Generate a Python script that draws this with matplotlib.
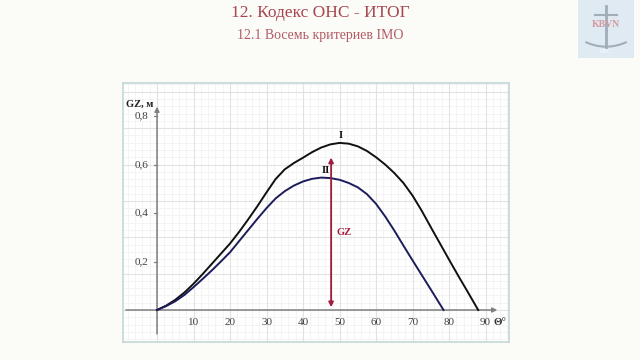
import numpy as np
import matplotlib.pyplot as plt
from matplotlib.patches import Rectangle

# heel angle, deg / righting lever GZ, m
theta_1 = [0, 2.5, 5, 7.5, 10, 12.5, 15, 17.5, 20, 22.5, 25, 27.5, 30, 32.5, 35, 37.5, 40, 42.5, 45,
           47.5, 50, 52.5, 55, 57.5, 60, 62.5, 65, 67.5, 70, 72.5, 75, 77.5, 80, 82.5, 85, 88]
gz_1 = [0, 0.018, 0.042, 0.072, 0.108, 0.148, 0.19, 0.232, 0.274, 0.322, 0.374, 0.428, 0.485, 0.54, 0.58,
        0.606, 0.628, 0.651, 0.67, 0.683, 0.689, 0.686, 0.675, 0.656, 0.63, 0.6, 0.565, 0.524, 0.472,
        0.41, 0.342, 0.275, 0.208, 0.142, 0.078, 0]
theta_2 = [0, 2.5, 5, 7.5, 10, 12.5, 15, 17.5, 20, 22.5, 25, 27.5, 30, 32.5, 35, 37.5, 40, 42.5, 45,
           47.5, 50, 52.5, 55, 57.5, 60, 62.5, 65, 67.5, 70, 72.5, 75, 78.5]
gz_2 = [0, 0.016, 0.036, 0.062, 0.094, 0.128, 0.163, 0.2, 0.238, 0.284, 0.33, 0.376, 0.42, 0.46, 0.49,
        0.513, 0.53, 0.541, 0.546, 0.544, 0.537, 0.524, 0.506, 0.478, 0.438, 0.386, 0.328, 0.266, 0.205,
        0.145, 0.085, 0]
xticks = [10, 20, 30, 40, 50, 60, 70, 80, 90]
yticks = [0.2, 0.4, 0.6, 0.8]
gz_arrow_theta = 47.7
gz_arrow_top = 0.64

serif = 'Liberation Serif'

fig = plt.figure(figsize=(6.4, 3.6), dpi=100)
fig.patch.set_facecolor('#fbfbf8')

# titles
fig.text(0.5, 0.965, '12. Кодекс ОНС - ИТОГ', ha='center', va='center',
         family=serif, fontsize=12.5, color='#a8454e')
fig.text(0.5, 0.9, '12.1 Восемь критериев IMO', ha='center', va='center',
         family=serif, fontsize=10, color='#b25a64')

# logo placeholder top right
lax = fig.add_axes([0.903, 0.838, 0.088, 0.162])
lax.set_xlim(0, 1); lax.set_ylim(0, 1)
lax.axis('off')
lax.add_patch(Rectangle((0, 0), 1, 1, color='#dfeaf3'))
lax.plot([0.5, 0.5], [0.2, 0.9], color='#a2adba', lw=2)
lax.plot([0.3, 0.7], [0.75, 0.75], color='#a2adba', lw=1.5)
u = np.linspace(-0.35, 0.35, 30)
lax.plot(u + 0.5, 0.2 + 0.6 * u ** 2, color='#a2adba', lw=1.5)
lax.text(0.5, 0.58, 'KBVN', ha='center', va='center', family=serif, fontsize=7,
         color='#d49a9e', weight='bold')
lax.text(0.5, 0.12, 'DSC', ha='center', va='center', family=serif, fontsize=4.5, color='#ffffff')

# main panel
x0 = (123 - 157) / 3.65
x1 = (509 - 157) / 3.65
y0 = -(342 - 310) / 242.5
y1 = (310 - 83) / 242.5
ax = fig.add_axes([123 / 640, 18 / 360, 386 / 640, 259 / 360])
ax.set_facecolor('white')
ax.set_xlim(x0, x1)
ax.set_ylim(y0, y1)
ax.set_xticks([]); ax.set_yticks([])
for s in ax.spines.values():
    s.set_color('#c3d8d8')
    s.set_linewidth(1.2)

# square grid
ax.vlines(np.arange(-8, 97, 2), y0, y1, color='#f3f3f3', lw=0.6, zorder=0)
ax.hlines(np.arange(-0.12, 0.94, 0.03), x0, x1, color='#f3f3f3', lw=0.6, zorder=0)
ax.vlines(np.arange(0, 97, 10), y0, y1, color='#e2e2e2', lw=0.8, zorder=0)
ax.hlines(np.arange(-0.15, 0.94, 0.15), x0, x1, color='#e2e2e2', lw=0.8, zorder=0)

# axes with arrows
ax.annotate('', xy=(94, 0), xytext=(x0, 0),
            arrowprops=dict(arrowstyle='-|>', color='#808080', lw=1.1, mutation_scale=7))
ax.annotate('', xy=(0, 0.85), xytext=(0, -0.11),
            arrowprops=dict(arrowstyle='-|>', color='#808080', lw=1.1, mutation_scale=7))

for t in xticks:
    ax.text(t, -0.05, str(t), ha='center', va='center', family=serif, fontsize=8, color='#404040')
ax.text(94, -0.05, 'Θ°', ha='center', va='center', family=serif, fontsize=8,
        color='#303030', weight='bold')
for v in yticks:
    ax.plot([-0.9, 0], [v, v], color='#808080', lw=0.9)
    ax.text(-2.3, v, ('%.1f' % v).replace('.', ','), ha='right', va='center',
            family=serif, fontsize=8, color='#404040')
ax.text(-4.8, 0.85, 'GZ, м', ha='center', va='center', family=serif, fontsize=7.5,
        color='#202020', weight='bold')

# curves
ax.plot(theta_1, gz_1, color='#101010', lw=1.4, zorder=3, solid_joinstyle='round')
ax.plot(theta_2, gz_2, color='#1c1c5c', lw=1.4, zorder=3, solid_joinstyle='round')
ax.text(50.3, 0.72, 'I', ha='center', va='center', family=serif, fontsize=7.5,
        weight='bold', color='#101010')
ax.text(46.3, 0.575, 'II', ha='center', va='center', family=serif, fontsize=7.5,
        weight='bold', color='#101010')

# GZ arrow
ax.annotate('', xy=(gz_arrow_theta, gz_arrow_top), xytext=(gz_arrow_theta, 0),
            arrowprops=dict(arrowstyle='<|-|>', color='#a11c3a', lw=1.3, mutation_scale=7),
            zorder=4)
ax.text(51.2, 0.318, 'GZ', ha='center', va='center', family=serif, fontsize=7.5,
        weight='bold', color='#a11c3a')

fig.savefig('out.png', dpi=100, facecolor=fig.get_facecolor())
